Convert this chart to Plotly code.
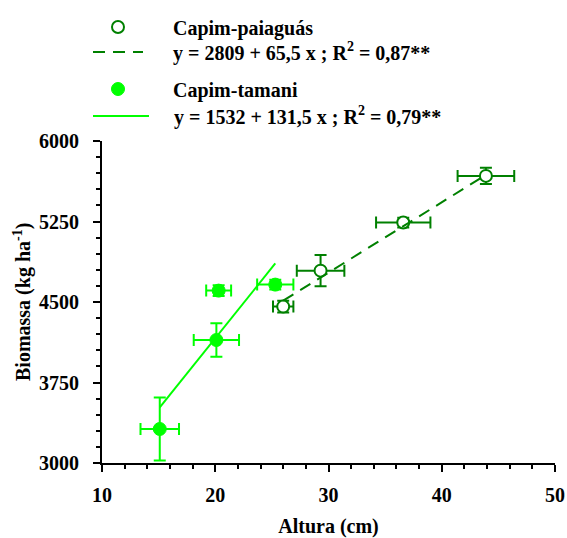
import plotly.graph_objects as go

# Capim-paiaguás
pai_x = [26.0, 29.3, 36.6, 43.9]
pai_y = [4457, 4792, 5240, 5675]
pai_xerr = [0.9, 2.1, 2.4, 2.5]
pai_yerr = [55, 146, 45, 75]

# Capim-tamani
tam_x = [15.1, 20.1, 20.3, 25.3]
tam_y = [3317, 4146, 4606, 4662]
tam_xerr = [1.7, 2.0, 1.1, 1.6]
tam_yerr = [294, 155, 50, 45]

pai_a, pai_b = 2809, 65.5
tam_a, tam_b = 1532, 131.5

pai_fit_x = [min(pai_x), max(pai_x)]
pai_fit_y = [pai_a + pai_b * v for v in pai_fit_x]
tam_fit_x = [min(tam_x), max(tam_x)]
tam_fit_y = [tam_a + tam_b * v for v in tam_fit_x]

x_ticks = [10, 20, 30, 40, 50]
y_ticks = [3000, 3750, 4500, 5250, 6000]

legend_names = [
    "Capim-paiaguás",
    "y = 2809 + 65,5 x ; R<sup>2</sup> = 0,87**",
    "Capim-tamani",
    "y = 1532 + 131,5 x ; R<sup>2</sup> = 0,79**",
]
x_title = "Altura (cm)"
y_title = "Biomassa (kg ha<sup>-1</sup>)"

DARK = "#008000"
LIME = "#00FF00"
FONT = "'Liberation Serif', 'Times New Roman', Times, serif"
W, H = 567, 538


def lab(s, pad=5):
    return "&nbsp;" * pad + f"<b>{s}</b>"


fig = go.Figure()

fig.add_trace(go.Scatter(
    x=pai_x, y=pai_y, mode="markers", name=lab(legend_names[0]),
    legend="legend",
    marker=dict(symbol="circle", size=12, color="white", line=dict(color=DARK, width=2)),
    error_x=dict(type="data", array=pai_xerr, color=DARK, thickness=2, width=6),
    error_y=dict(type="data", array=pai_yerr, color=DARK, thickness=2, width=6),
))
fig.add_trace(go.Scatter(
    x=pai_fit_x, y=pai_fit_y, mode="lines",
    name=lab(legend_names[1]), legend="legend2",
    line=dict(color=DARK, width=2, dash="12px,8px"),
))
fig.add_trace(go.Scatter(
    x=tam_x, y=tam_y, mode="markers", name=lab(legend_names[2]),
    legend="legend3",
    marker=dict(symbol="circle", size=13, color=LIME, line=dict(color=LIME, width=1)),
    error_x=dict(type="data", array=tam_xerr, color=LIME, thickness=2, width=6),
    error_y=dict(type="data", array=tam_yerr, color=LIME, thickness=2, width=6),
))
fig.add_trace(go.Scatter(
    x=tam_fit_x, y=tam_fit_y, mode="lines",
    name=lab(legend_names[3], pad=4), legend="legend4",
    line=dict(color=LIME, width=2),
))


def leg(ypix, itemw=50):
    return dict(
        x=88 / W, y=1 - ypix / H, xref="container", yref="container",
        xanchor="left", yanchor="middle",
        font=dict(family=FONT, size=20, color="black"),
        itemwidth=itemw, bgcolor="rgba(0,0,0,0)", borderwidth=0,
    )


fig.update_layout(
    width=W, height=H,
    margin=dict(l=102, r=12, t=141, b=75, autoexpand=False),
    paper_bgcolor="white", plot_bgcolor="white",
    font=dict(family=FONT, size=20, color="black"),
    legend=leg(27), legend2=leg(52), legend3=leg(89), legend4=leg(116, 56),
    showlegend=True,
    annotations=[dict(
        text=f"<b>{y_title}</b>", textangle=-90,
        xref="paper", yref="paper", x=(22 - 102) / 453, y=0.5,
        xanchor="center", yanchor="middle", showarrow=False,
        font=dict(family=FONT, size=20, color="black"),
    )],
)

fig.update_xaxes(
    range=[10, 50], tickvals=x_ticks, ticktext=[f"<b>{v}</b>" for v in x_ticks],
    showline=True, linecolor="black", linewidth=2, showgrid=False, zeroline=False,
    ticks="outside", ticklen=7, tickwidth=2, tickcolor="black", ticklabelstandoff=6,
    minor=dict(dtick=2, tick0=10, ticks="outside", ticklen=4, tickwidth=2, tickcolor="black", showgrid=False),
    title=dict(text=f"<b>{x_title}</b>", font=dict(family=FONT, size=20), standoff=14),
    tickfont=dict(family=FONT, size=20),
)
fig.update_yaxes(
    range=[3000, 6000], tickvals=y_ticks, ticktext=[f"<b>{v}</b>" for v in y_ticks],
    showline=True, linecolor="black", linewidth=2, showgrid=False, zeroline=False,
    ticks="outside", ticklen=7, tickwidth=2, tickcolor="black", ticklabelstandoff=10,
    minor=dict(dtick=150, tick0=3000, ticks="outside", ticklen=4, tickwidth=2, tickcolor="black", showgrid=False),
    tickfont=dict(family=FONT, size=20),
)

fig.write_html(
    "out.html",
    config={"displayModeBar": False},
    post_script="document.body.style.margin='0';document.body.style.overflow='hidden';",
)
